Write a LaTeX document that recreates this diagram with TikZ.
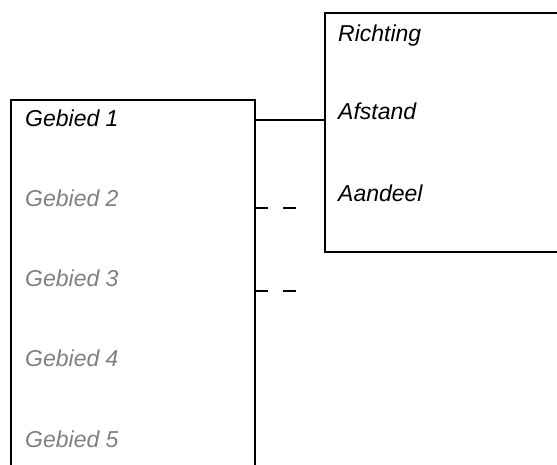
\documentclass[tikz,border=0pt]{standalone}
\usepackage{fontspec}
\setmainfont{Liberation Sans}
\begin{document}
\begin{tikzpicture}[x=1pt,y=-1pt,
  boxline/.style={line width=1.8pt,black},
  lbl/.style={anchor=base west,inner sep=0pt,font=\fontsize{23}{27}\selectfont\itshape},
  dim/.style={lbl,text=black!50},
  stub/.style={line width=1.8pt,dash pattern=on 12.7pt off 15.6pt}]
\useasboundingbox (0,0) rectangle (557,465);
% left box (open at bottom)
\draw[boxline] (11,470) -- (11,100) -- (255,100) -- (255,470);
% right box (open at right)
\draw[boxline] (562,13) -- (325,13) -- (325,252) -- (562,252);
% texts
\node[lbl] (g1) at (25,127) {Gebied 1};
\node[dim] (g2) at (25,207) {Gebied 2};
\node[dim] (g3) at (25,287) {Gebied 3};
\node[dim] (g4) at (25,366) {Gebied 4};
\node[dim] (g5) at (25,447) {Gebied 5};
\node[lbl] (r1) at (338,42) {Richting};
\node[lbl] (r2) at (338,120) {Afstand};
\node[lbl] (r3) at (338,202) {Aandeel};
% connectors
\coordinate (a1) at (255,120);
\coordinate (b1) at (325,120);
\coordinate (a2) at (255,208);
\coordinate (b2) at (296,208);
\coordinate (a3) at (255,291);
\coordinate (b3) at (296,291);
\draw[boxline] (a1) -- (b1);
\draw[stub] (a2) -- (b2);
\draw[stub] (a3) -- (b3);
\end{tikzpicture}
\end{document}
